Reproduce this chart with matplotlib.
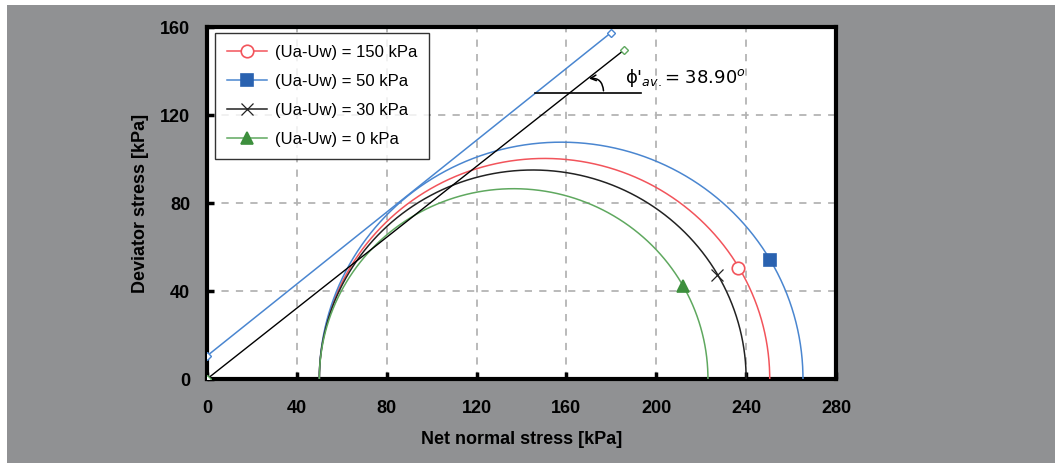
import numpy as np
import matplotlib.pyplot as plt
from matplotlib.patches import Rectangle

plt.rcParams['font.family'] = ['Liberation Sans', 'DejaVu Sans']

# Mohr circles: net confining stress and major stress at failure (kPa)
labels = ['(Ua-Uw) = 150 kPa', '(Ua-Uw) = 50 kPa', '(Ua-Uw) = 30 kPa', '(Ua-Uw) = 0 kPa']
sigma3 = [50, 50, 50, 50]
sigma1 = [250.5, 265.3, 240.0, 223.0]
colors = ['#f2545b', '#4a86d0', '#222222', '#5fa85f']
marker_colors = ['#f2545b', '#2a62b0', '#222222', '#3d8f3d']
markers = ['o', 's', 'x', '^']
marker_x = [236.3, 250.6, 227.2, 211.8]
marker_y = [50.5, 54.0, 47.3, 42.3]

# failure envelopes
env_blue_x = [0, 179.7]
env_blue_y = [10.5, 157.3]
env_black_x = [0, 185.6]
env_black_y = [0, 149.5]

fig = plt.figure(figsize=(10.55, 4.63), dpi=100)
fig.patches.append(Rectangle((7 / 1055, 0), 1, (463 - 5) / 463, transform=fig.transFigure,
                             facecolor='#909193', edgecolor='none', zorder=-10))
ax = fig.add_axes([207 / 1055, 84 / 463, 629 / 1055, 352 / 463])
ax.set_facecolor('white')

for s3, s1, c in zip(sigma3, sigma1, colors):
    centre = (s1 + s3) / 2
    rad = (s1 - s3) / 2
    t = np.linspace(np.pi, 0, 300)
    ax.plot(centre + rad * np.cos(t), rad * np.sin(t), color=c, lw=1.1, zorder=3)

handles = []
for i in range(4):
    face = 'white' if markers[i] == 'o' else marker_colors[i]
    h, = ax.plot([marker_x[i]], [marker_y[i]], linestyle='-', color=colors[i], marker=markers[i],
                 markersize=9 if markers[i] != 'x' else 8, markerfacecolor=face,
                 markeredgecolor=marker_colors[i],
                 markeredgewidth=1.2 if markers[i] != 'x' else 0.9, lw=1.1, zorder=5,
                 label=labels[i])
    handles.append(h)

ax.plot(env_blue_x, env_blue_y, color='#4a86d0', lw=1.1, marker='D', markersize=4,
        markerfacecolor='white', markeredgecolor='#4a86d0', zorder=4)
ax.plot(env_black_x, env_black_y, color='black', lw=1.0, zorder=4)
ax.plot(env_black_x, env_black_y, linestyle='none', marker='D', markersize=4,
        markerfacecolor='white', markeredgecolor='#5fa85f', zorder=6)

# angle annotation
ax.plot([146, 193], [130, 130], color='black', lw=1.2, zorder=4)
ax.annotate('', xy=(170, 136.6), xytext=(176.5, 131),
            arrowprops=dict(arrowstyle='->', color='black', lw=1.1,
                            connectionstyle='arc3,rad=0.5', shrinkA=0, shrinkB=0))
ax.text(186, 137, "ϕ'$_{av.}$= 38.90$^{o}$", fontsize=13, ha='left', va='center',
        family=['DejaVu Sans'])

ax.set_xlim(0, 280)
ax.set_ylim(0, 160)
ax.set_xticks(np.arange(0, 281, 40))
ax.set_yticks(np.arange(0, 161, 40))
for v in range(40, 280, 40):
    ax.axvline(v, color='#b4b4b4', lw=1.3, ls=(0, (4, 4)), zorder=1)
for v in range(40, 160, 40):
    ax.axhline(v, color='#b4b4b4', lw=1.3, ls=(0, (4, 4)), zorder=1)

ax.tick_params(direction='in', length=5, width=2.5, color='black', labelsize=13)
ax.tick_params(axis='x', pad=15)
ax.tick_params(axis='y', pad=12)
ax.tick_params(top=False, right=False)
for lab in ax.get_xticklabels() + ax.get_yticklabels():
    lab.set_fontweight('bold')
for sp in ax.spines.values():
    sp.set_linewidth(3)
    sp.set_color('black')

ax.set_xlabel('Net normal stress [kPa]', fontsize=13, fontweight='bold', labelpad=10)
ax.set_ylabel('Deviator stress [kPa]', fontsize=13, fontweight='bold', labelpad=8)

leg = ax.legend(handles=handles, loc='upper left', bbox_to_anchor=(0.0127, 0.983),
                borderaxespad=0, fontsize=12, frameon=True, fancybox=False,
                handlelength=2.4, handletextpad=0.5, labelspacing=0.85,
                borderpad=0.7, numpoints=1)
leg.get_frame().set_edgecolor('black')
leg.get_frame().set_linewidth(1.0)
leg.set_zorder(10)

fig.savefig('out.png', dpi=100)
